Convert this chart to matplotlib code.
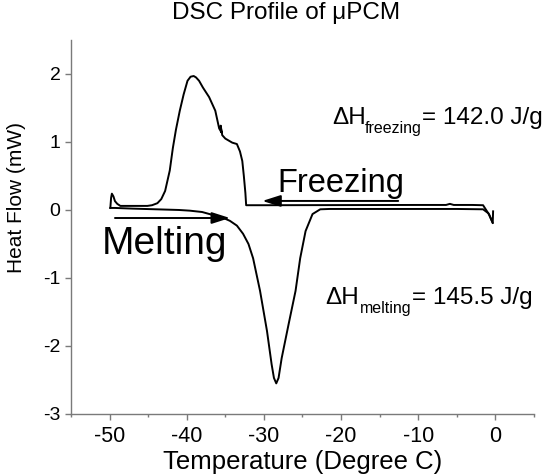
import matplotlib
matplotlib.use("Agg")
import matplotlib.pyplot as plt
from matplotlib.ticker import MultipleLocator

plt.rcParams["font.family"] = ["Liberation Sans", "DejaVu Sans"]
plt.rcParams["axes.unicode_minus"] = False

# Cooling scan (0 -> -50 C): exothermic freezing peak
freeze_temp = [-0.3, -0.35, -0.8, -1.6, -3.0, -5.4, -5.9, -6.4, -10.0, -20.0,
               -30.0, -32.3, -32.4, -32.6, -32.8, -33.1, -33.5, -34.1, -35.0,
               -35.4, -35.6, -35.5, -35.8, -36.3, -37.1, -37.9, -38.4, -38.8,
               -39.1, -39.5, -39.9, -40.4, -40.9, -41.4, -41.8, -42.2, -42.8,
               -43.3, -43.8, -44.5, -45.1, -47.0, -48.6, -49.0, -49.3, -49.5,
               -49.7, -49.8, -49.9]
freeze_flow = [-0.02, -0.19, -0.07, 0.07, 0.074, 0.074, 0.09, 0.074, 0.074, 0.072,
               0.07, 0.07, 0.25, 0.50, 0.72, 0.86, 0.97, 0.99, 1.05,
               1.10, 1.24, 1.14, 1.20, 1.46, 1.66, 1.80, 1.90, 1.95,
               1.97, 1.96, 1.90, 1.70, 1.46, 1.18, 0.91, 0.58, 0.28,
               0.16, 0.10, 0.07, 0.06, 0.06, 0.06, 0.09, 0.13, 0.20,
               0.24, 0.18, 0.03]

# Heating scan (-50 -> 0 C): endothermic melting peak
melt_temp = [-49.9, -49.3, -47.0, -44.0, -41.0, -39.6, -38.0, -36.1, -35.0,
             -34.4, -33.5, -32.7, -32.0, -31.4, -30.5, -29.6, -29.0, -28.7,
             -28.4, -28.1, -27.7, -26.8, -25.9, -25.3, -24.6, -23.7, -22.7,
             -21.5, -20.0, -15.0, -10.0, -5.0, -1.6, -0.9, -0.35]
melt_flow = [0.03, 0.03, 0.02, 0.01, 0.0, -0.01, -0.03, -0.09, -0.13,
             -0.16, -0.23, -0.35, -0.50, -0.71, -1.19, -1.78, -2.27, -2.47,
             -2.55, -2.47, -2.18, -1.68, -1.19, -0.71, -0.31, -0.06, 0.01,
             0.015, 0.015, 0.015, 0.015, 0.015, 0.01, -0.05, -0.19]

x_ticks = [-50, -40, -30, -20, -10, 0]
y_ticks = [-3, -2, -1, 0, 1, 2]
enthalpy_freezing = 142.0
enthalpy_melting = 145.5

fig = plt.figure(figsize=(5.58, 4.76), dpi=100)
ax = fig.add_axes([0.1272, 0.1303, 0.8298, 0.7857])

ax.plot(freeze_temp, freeze_flow, color="black", lw=1.4, solid_joinstyle="round")
ax.plot(melt_temp, melt_flow, color="black", lw=1.4, solid_joinstyle="round")

ax.set_xlim(-55, 5)
ax.set_ylim(-3, 2.5)
ax.set_xticks(x_ticks)
ax.set_yticks(y_ticks)
ax.xaxis.set_minor_locator(MultipleLocator(5))

for side in ("top", "right"):
    ax.spines[side].set_visible(False)
for side in ("left", "bottom"):
    ax.spines[side].set_color("#7a7a7a")
    ax.spines[side].set_linewidth(1.0)

ax.tick_params(axis="x", which="major", direction="out", length=4.5, width=1,
               color="#7a7a7a", labelsize=15.5, pad=4.5)
ax.tick_params(axis="x", which="minor", direction="out", length=2.5, width=1,
               color="#7a7a7a")
ax.tick_params(axis="y", which="major", direction="out", length=4, width=1,
               color="#7a7a7a", labelsize=14, pad=3.5)

ax.set_xlabel("Temperature (Degree C)", fontsize=18.5, labelpad=1.5)
ax.set_ylabel("Heat Flow (mW)", fontsize=15)
ax.yaxis.set_label_coords(-0.097, 0.58)

fig.text(0.513, 0.960, "DSC Profile of \u03bcPCM", fontsize=17.5,
         ha="center", va="baseline")

# Scan direction arrows and labels
ax.annotate("", xy=(-30.2, 0.133), xytext=(-12.6, 0.133),
            arrowprops=dict(arrowstyle="-|>,head_length=1.1,head_width=0.35",
                            color="black", lw=1.4, shrinkA=0, shrinkB=0))
ax.annotate("", xy=(-34.4, -0.118), xytext=(-49.3, -0.118),
            arrowprops=dict(arrowstyle="-|>,head_length=1.1,head_width=0.35",
                            color="black", lw=1.4, shrinkA=0, shrinkB=0))
ax.text(-28.3, 0.265, "Freezing", fontsize=23.5, ha="left", va="baseline")
ax.text(-51.0, -0.65, "Melting", fontsize=28, ha="left", va="baseline")

# Enthalpy labels: main text, lowered subscript, value
ax.text(-21.14, 1.268, "\u0394H", fontsize=17.5, ha="left", va="baseline")
ax.text(-16.99, 1.136, "freezing", fontsize=11.5, ha="left", va="baseline")
ax.text(-9.47, 1.268, "= %.1f J/g" % enthalpy_freezing, fontsize=17.5,
        ha="left", va="baseline")

ax.text(-22.05, -1.386, "\u0394H", fontsize=17.5, ha="left", va="baseline")
ax.text(-17.51, -1.519, "melting", fontsize=11.5, ha="left", va="baseline")
ax.text(-10.77, -1.386, "= %.1f J/g" % enthalpy_melting, fontsize=17.5,
        ha="left", va="baseline")

fig.savefig("out.png", dpi=100)
